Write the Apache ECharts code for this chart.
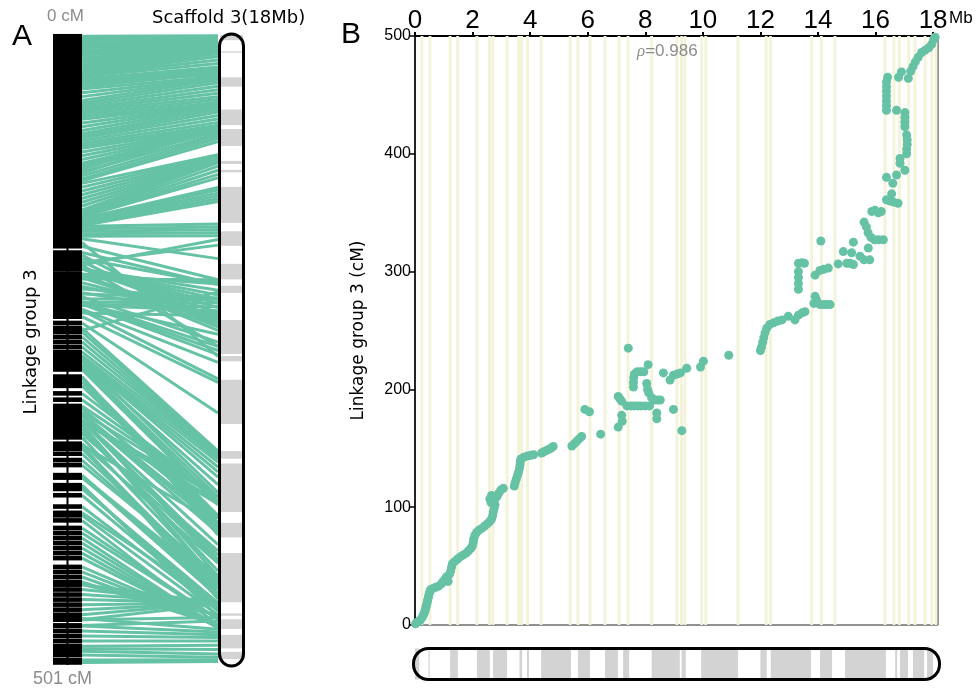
<!DOCTYPE html>
<html><head><meta charset="utf-8">
<script src="https://cdn.jsdelivr.net/npm/echarts@6/dist/echarts.min.js"></script>
<style>html,body{margin:0;padding:0;background:#fff}#c{width:978px;height:689px}</style>
</head><body><div id="c"></div>
<script>
// ---------- data ----------
const scaffoldLength = 18.17;   // Mb
const linkageLength = 501;      // cM
const xTicks = [0, 2, 4, 6, 8, 10, 12, 14, 16, 18];
const yTicks = [0, 100, 200, 300, 400, 500];
const rho = 0.986;

// markers: physical position (Mb) and genetic position (cM)
const markerMb = [
 0.02,0.06,0.12,0.18,0.24,0.28,0.32,0.35,0.37,0.39,0.41,0.43,0.45,0.47,0.49,0.51,0.54,0.62,0.72,0.82,
 0.92,0.98,1.04,1.10,1.15,1.20,1.24,1.27,1.30,1.38,1.48,1.58,1.68,1.78,1.86,1.94,1.99,2.02,2.04,2.08,
 2.14,2.22,2.32,2.42,2.52,2.60,2.66,2.70,2.72,2.75,2.78,2.64,2.60,2.66,2.76,2.85,2.91,2.98,3.07,3.45,
 3.48,3.52,3.56,3.60,3.63,3.65,3.66,3.68,3.78,3.90,4.02,4.12,4.40,4.47,4.56,4.64,4.72,4.80,5.45,5.54,
 5.62,5.70,5.79,5.90,6.06,6.45,7.06,7.20,7.18,7.06,7.12,7.18,7.41,7.36,7.50,7.62,7.74,7.86,8.00,8.15,
 7.59,7.59,7.60,7.62,7.72,7.84,7.95,8.10,8.05,8.08,8.12,8.22,8.30,8.42,8.52,8.40,8.40,8.63,8.86,8.98,
 9.10,9.22,9.44,8.98,9.27,9.92,10.02,10.90,12.00,12.04,12.08,12.12,12.16,12.22,12.32,12.46,12.60,12.75,12.97,13.20,
 13.32,13.45,13.55,13.86,13.90,13.95,14.07,14.20,14.30,14.42,13.32,13.32,13.32,13.32,13.32,13.45,13.53,13.90,14.07,14.20,
 14.36,14.10,14.70,14.88,15.00,15.12,15.23,15.17,15.23,15.46,15.60,15.75,15.80,15.60,15.68,15.74,15.84,15.96,16.10,16.27,
 15.87,15.98,16.10,16.20,16.38,16.48,16.62,16.78,16.56,16.60,16.73,16.38,17.02,16.85,16.85,17.08,17.08,17.10,17.10,17.08,
 17.02,17.02,17.02,17.02,16.73,16.38,16.38,16.38,16.38,16.38,16.38,16.38,16.42,16.80,16.90,17.14,17.22,17.30,17.38,17.48,
 17.60,17.72,17.85,17.95,18.02,18.07
];
const markerCM = [
 1,2,3,4,6,8,10,12,14,16,18,20,22,24,26,28,30,31,32,33,
 35,37,39,41,37,43,46,49,52,54,56,58,59.5,61,63,65,67,70,73,76,
 78.5,80.5,82,84,86,88,90,93,96,99,102,104,107,110,106,109,112,114.5,116,118,
 121,124,127,130,133,136,139,141,142.5,143.5,144,144.5,146,147,148,149,150,151.5,152,154,
 156,158,160,183,181,162,168,173,178,194,192,190,235,186,186,186,186,186,186,186,
 202,206,210,213,215,215,215,221,205,200,197,193,191,191,191,180,175,214,208,212,
 213,214,218,183,165,219,224,229,233,236,240,244,248,252,255,256.5,258,259,262,259,
 263,265,266,273,279,276,272,272,272,272,285,290,295,300,307,307.5,307,297,301,302,
 303,326,306.5,317,307,307,306,316,325,313,310,320,310,342,338,333,329,327,327,327,
 351,352,350,351,361,360,359,358,366,375,382,380,386,392,396,400,404,408,412,416,
 423,427,431,435,437,437,441,445,449,453,457,461,465,465,469.5,464,470,474,478,482,
 486,488,490,493,497,499
];

// scaffold contig bands (grey) in Mb
const bandStart = [0.00,0.47,1.22,2.15,2.71,3.63,3.89,4.38,5.66,6.60,7.23,8.22,9.26,9.94,12.00,12.36,14.07,14.94,16.68,16.85,17.30,17.79];
const bandEnd   = [0.15,0.51,1.49,2.60,3.20,3.72,3.96,5.42,6.08,7.05,7.44,9.20,9.41,11.22,12.22,13.76,14.49,16.36,16.75,17.13,17.69,18.00];
// assembly gap positions (Mb), shown as pale vertical lines
const gapMb = [0.24,0.52,1.22,1.48,2.15,2.59,2.71,3.20,3.60,3.70,3.91,4.38,5.39,5.66,6.08,6.60,7.09,7.40,8.22,9.10,
               9.26,9.38,9.96,10.10,11.22,12.20,12.35,13.78,14.12,14.59,16.33,16.64,16.83,17.15,17.37,17.72,17.95,18.10];

// ---------- chart ----------
const chart = echarts.init(document.getElementById('c'), null, {renderer: 'canvas'});
const TEAL = '#66c2a5';
const markers = markerMb.map((m, i) => [m, markerCM[i]]);
const bands = bandStart.map((s, i) => [s, bandEnd[i]]);

const option = {
  animation: false,
  backgroundColor: '#fff',
  grid: [
    {left: 53, top: 35, width: 192, height: 630, show: false},
    {left: 415, top: 36, width: 523, height: 589, show: true, borderColor: '#222', borderWidth: 1, backgroundColor: 'transparent'},
    {left: 415, top: 648.5, width: 523, height: 31, show: false}
  ],
  xAxis: [
    {gridIndex: 0, type: 'value', min: 0, max: 192, show: false},
    {gridIndex: 1, type: 'value', min: 0, max: scaffoldLength, position: 'top',
     axisLine: {show: true, onZero: false, lineStyle: {color: '#000', width: 2}},
     axisTick: {show: true, inside: false, length: 4, customValues: xTicks, lineStyle: {color: '#000', width: 2}},
     axisLabel: {show: true, customValues: xTicks, margin: 2, color: '#000', fontSize: 26, fontFamily: 'Liberation Sans'},
     splitLine: {show: false}},
    {gridIndex: 2, type: 'value', min: 0, max: scaffoldLength, show: false}
  ],
  yAxis: [
    {gridIndex: 0, type: 'value', min: 0, max: linkageLength, inverse: true, show: false},
    {gridIndex: 0, type: 'value', min: 0, max: scaffoldLength, inverse: true, show: false},
    {gridIndex: 1, type: 'value', min: 0, max: 500, interval: 100,
     axisLine: {show: true, onZero: false, lineStyle: {color: '#000', width: 1.5}},
     axisTick: {show: true, length: 5, lineStyle: {color: '#000', width: 1.5}},
     axisLabel: {color: '#000', fontSize: 16, margin: 4, fontFamily: 'Liberation Sans'},
     splitLine: {show: false},
     name: 'Linkage group 3 (cM)', nameLocation: 'middle', nameGap: 48, nameRotate: 90,
     nameTextStyle: {color: '#000', fontSize: 17, fontFamily: 'DejaVu Sans'}},
    {gridIndex: 2, type: 'value', min: 0, max: 1, show: false}
  ],
  series: [
    // pale gap lines in panel B
    {type: 'custom', xAxisIndex: 1, yAxisIndex: 2, z: 1, silent: true,
     data: gapMb.map(g => [g, 0]),
     renderItem: (p, api) => {
       const a = api.coord([api.value(0), 500]);
       const b = api.coord([api.value(0), 0]);
       return {type: 'rect', shape: {x: a[0] - 1.4, y: a[1], width: 2.8, height: b[1] - a[1]},
               style: {fill: '#f3f3d8'}};
     }},
    // scatter
    {type: 'scatter', xAxisIndex: 1, yAxisIndex: 2, z: 3, data: markers,
     symbolSize: 9, itemStyle: {color: TEAL, opacity: 1}, clip: false},
    // linkage-to-scaffold lines (panel A)
    {type: 'custom', xAxisIndex: 0, yAxisIndex: 0, z: 2, silent: true,
     data: markers,
     renderItem: (p, api) => {
       const a = api.coord([29, api.value(1)]);
       const b = api.coord([165, api.value(0) / scaffoldLength * linkageLength]);
       return {type: 'line', shape: {x1: a[0], y1: a[1], x2: b[0], y2: b[1]},
               style: {stroke: TEAL, lineWidth: 3}};
     }},
    // linkage group bar markers
    {type: 'custom', xAxisIndex: 0, yAxisIndex: 0, z: 3, silent: true,
     data: markerCM.map(c => [0, c]),
     renderItem: (p, api) => {
       const a = api.coord([0, api.value(1)]);
       const b = api.coord([29, api.value(1)]);
       return {type: 'rect', shape: {x: a[0], y: a[1] - 2.3, width: b[0] - a[0], height: 4.6},
               style: {fill: '#000'}};
     }},
    // linkage group centre line
    {type: 'custom', xAxisIndex: 0, yAxisIndex: 0, z: 4, silent: true,
     data: [[14.5, 0]],
     renderItem: (p, api) => {
       const a = api.coord([api.value(0), 0]);
       const b = api.coord([api.value(0), linkageLength]);
       return {type: 'rect', shape: {x: a[0] - 1, y: a[1], width: 2, height: b[1] - a[1]}, style: {fill: '#000'}};
     }},
    // vertical scaffold bands
    {type: 'custom', xAxisIndex: 0, yAxisIndex: 1, z: 3, silent: true,
     data: bands,
     renderItem: (p, api) => {
       const a = api.coord([167, api.value(0)]);
       const b = api.coord([190, api.value(1)]);
       return {type: 'rect', shape: {x: a[0], y: a[1], width: b[0] - a[0], height: b[1] - a[1]}, style: {fill: '#d3d3d3'}};
     }},
    // vertical scaffold outline
    {type: 'custom', xAxisIndex: 0, yAxisIndex: 1, z: 4, silent: true,
     data: [[0, scaffoldLength]],
     renderItem: (p, api) => {
       const a = api.coord([166.5, api.value(0)]);
       const b = api.coord([190.5, api.value(1)]);
       return {type: 'rect', shape: {x: a[0], y: a[1] - 1, width: b[0] - a[0], height: b[1] - a[1] + 2, r: 12},
               style: {fill: 'none', stroke: '#000', lineWidth: 3}};
     }},
    // horizontal scaffold bands
    {type: 'custom', xAxisIndex: 2, yAxisIndex: 3, z: 3, silent: true,
     data: bands,
     renderItem: (p, api) => {
       const a = api.coord([api.value(0), 1]);
       const b = api.coord([api.value(1), 0]);
       return {type: 'rect', shape: {x: a[0], y: a[1], width: b[0] - a[0], height: b[1] - a[1]}, style: {fill: '#d3d3d3'}};
     }},
    // horizontal scaffold outline
    {type: 'custom', xAxisIndex: 2, yAxisIndex: 3, z: 4, silent: true,
     data: [[0, scaffoldLength]],
     renderItem: (p, api) => {
       const a = api.coord([api.value(0), 1]);
       const b = api.coord([api.value(1), 0]);
       return {type: 'rect', shape: {x: a[0] - 1.5, y: a[1], width: b[0] - a[0] + 3, height: b[1] - a[1], r: 15},
               style: {fill: 'none', stroke: '#000', lineWidth: 3}};
     }}
  ],
  graphic: [
    {type: 'text', left: 12, top: 22, style: {text: 'A', fontSize: 30, fontFamily: 'Liberation Sans', fill: '#000'}},
    {type: 'text', left: 341, top: 20, style: {text: 'B', fontSize: 30, fontFamily: 'Liberation Sans', fill: '#000'}},
    {type: 'text', left: 47, top: 8, style: {text: '0 cM', fontSize: 17, fontFamily: 'Liberation Sans', fill: '#8c8c8c'}},
    {type: 'text', left: 33, top: 670, style: {text: linkageLength + ' cM', fontSize: 18, fontFamily: 'Liberation Sans', fill: '#8c8c8c'}},
    {type: 'text', left: 152, top: 9, style: {text: 'Scaffold 3(' + Math.round(scaffoldLength) + 'Mb)', fontSize: 18, fontFamily: 'DejaVu Sans', fill: '#000'}},
    {type: 'text', x: 31, y: 342, rotation: Math.PI / 2,
     style: {text: 'Linkage group 3', fontSize: 18, fontFamily: 'DejaVu Sans', fill: '#000', align: 'center', verticalAlign: 'middle'}},
    {type: 'text', left: 949, top: 10, style: {text: 'Mb', fontSize: 17, fontFamily: 'Liberation Sans', fill: '#000'}},
    {type: 'text', left: 637, top: 43, z: 100, style: {text: '{i|ρ}=' + rho, fontSize: 17, fontFamily: 'Liberation Sans', fill: '#8c8c8c',
      rich: {i: {fontStyle: 'italic', fontSize: 17, fontFamily: 'Liberation Serif', fill: '#8c8c8c'}}}}
  ]
};
chart.setOption(option);
</script></body></html>
